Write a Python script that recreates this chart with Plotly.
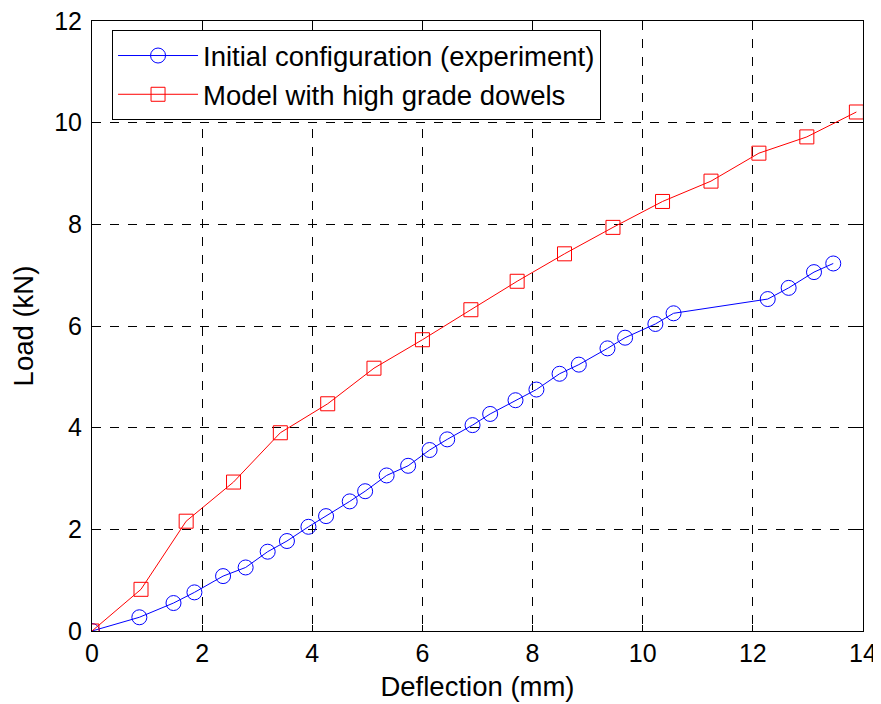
import plotly.graph_objects as go

# ── data ─────────────────────────────────────────────────────────────────────
exp_defl = [0.0, 0.86, 1.48, 1.86, 2.38, 2.79, 3.19, 3.54, 3.93, 4.25, 4.68, 4.96,
            5.35, 5.74, 6.13, 6.45, 6.91, 7.23, 7.69, 8.07, 8.49, 8.84, 9.36, 9.68,
            10.23, 10.56, 12.27, 12.65, 13.11, 13.46]
exp_load = [0.0, 0.27, 0.55, 0.76, 1.08, 1.25, 1.56, 1.77, 2.05, 2.26, 2.55, 2.75,
            3.06, 3.25, 3.56, 3.77, 4.05, 4.27, 4.54, 4.75, 5.06, 5.24, 5.56, 5.77,
            6.04, 6.25, 6.53, 6.75, 7.06, 7.23]

mod_defl = [0.0, 0.89, 1.71, 2.57, 3.42, 4.28, 5.12, 6.00, 6.88, 7.72, 8.58, 9.46,
            10.36, 11.24, 12.11, 12.98, 13.88]
mod_load = [0.0, 0.82, 2.16, 2.93, 3.90, 4.47, 5.17, 5.73, 6.32, 6.88, 7.42, 7.94,
            8.45, 8.85, 9.40, 9.72, 10.21]

x_ticks = [0, 2, 4, 6, 8, 10, 12, 14]
y_ticks = [0, 2, 4, 6, 8, 10, 12]

# ── colours / fonts ──────────────────────────────────────────────────────────
_C_EXP = "#0000ff"
_C_MOD = "#ff0000"
_FONT = "Liberation Sans, Arial, sans-serif"

fig = go.Figure()

fig.add_trace(go.Scatter(
    x=exp_defl, y=exp_load, mode="lines+markers",
    name="Initial configuration (experiment)",
    line=dict(color=_C_EXP, width=1),
    marker=dict(symbol="circle-open", size=15, color=_C_EXP, line=dict(width=1)),
))
fig.add_trace(go.Scatter(
    x=mod_defl, y=mod_load, mode="lines+markers",
    name="Model with high grade dowels",
    line=dict(color=_C_MOD, width=1),
    marker=dict(symbol="square-open", size=14, color=_C_MOD, line=dict(width=1)),
))

axis_common = dict(
    showline=True, linecolor="black", linewidth=1, mirror="ticks",
    ticks="inside", ticklen=6, tickcolor="black",
    showgrid=True, gridcolor="black", gridwidth=1, griddash="dash",
    zeroline=False, automargin=False, ticklabeloverflow="allow",
    tickfont=dict(size=25, color="black", family=_FONT),
    title_font=dict(size=27.5, color="black", family=_FONT),
)

fig.update_xaxes(range=[0, 14], tickvals=x_ticks, title_text="Deflection (mm)",
                 title_standoff=10, **axis_common)
fig.update_yaxes(range=[0, 12], tickvals=y_ticks, title_text="Load (kN)",
                 title_standoff=14, ticklabelstandoff=4, **axis_common)

# page body has an 8px margin, so the figure is 8px smaller and offset
fig.update_layout(
    width=873, height=696,
    margin=dict(l=84, r=18, t=13, b=73),
    paper_bgcolor="white", plot_bgcolor="white",
    font=dict(family=_FONT, size=27.5, color="black"),
    showlegend=True,
    legend=dict(
        x=0.026, y=0.985, xanchor="left", yanchor="top",
        bgcolor="white", bordercolor="black", borderwidth=1,
        font=dict(size=27.5, color="black", family=_FONT),
        tracegroupgap=0, itemwidth=80,
    ),
)

fig.write_html("out.html")
